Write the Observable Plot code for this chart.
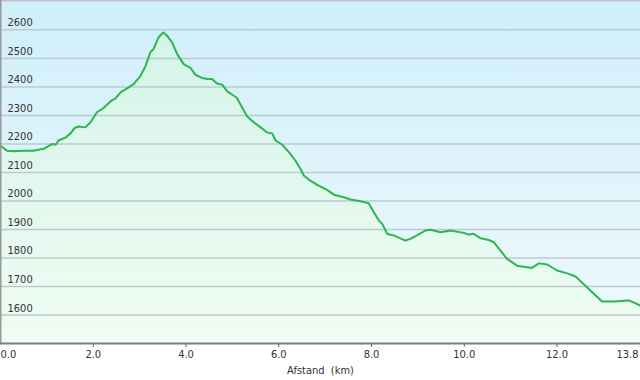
<!DOCTYPE html>
<html>
<head>
<meta charset="utf-8">
<script src="https://cdn.jsdelivr.net/npm/d3@7"></script>
<script src="https://cdn.jsdelivr.net/npm/@observablehq/plot@0.6"></script>
<style>
  html, body { margin: 0; padding: 0; background: #ffffff; }
  svg text { white-space: pre; }
</style>
</head>
<body>
<div id="chart"></div>
<script>
// Distance along the route (km)
const distanceKm = [0, 0.14, 0.28, 0.50, 0.71, 0.93, 1.12, 1.19, 1.25, 1.40, 1.51, 1.60, 1.68, 1.83, 1.94, 2.08, 2.22, 2.37, 2.48, 2.59, 2.73, 2.87, 3.02, 3.13, 3.23, 3.30, 3.41, 3.51, 3.59, 3.70, 3.81, 3.95, 4.10, 4.20, 4.35, 4.46, 4.56, 4.67, 4.78, 4.89, 5.03, 5.10, 5.21, 5.32, 5.46, 5.61, 5.75, 5.86, 5.93, 6.07, 6.25, 6.36, 6.47, 6.54, 6.68, 6.83, 7.04, 7.19, 7.40, 7.55, 7.76, 7.94, 8.05, 8.16, 8.23, 8.34, 8.48, 8.73, 8.84, 8.98, 9.16, 9.27, 9.49, 9.70, 9.99, 10.10, 10.20, 10.35, 10.53, 10.64, 10.92, 11.14, 11.46, 11.61, 11.79, 12.00, 12.22, 12.40, 12.97, 13.22, 13.55, 13.80];
// Elevation (m)
const elevationM = [2194, 2176, 2174, 2176, 2176, 2183, 2200, 2197, 2212, 2222, 2237, 2256, 2261, 2258, 2276, 2311, 2326, 2349, 2360, 2381, 2395, 2410, 2439, 2474, 2521, 2533, 2574, 2591, 2580, 2556, 2515, 2480, 2466, 2443, 2431, 2428, 2428, 2412, 2408, 2384, 2369, 2361, 2328, 2296, 2276, 2258, 2240, 2237, 2212, 2198, 2165, 2141, 2112, 2089, 2071, 2056, 2039, 2022, 2013, 2005, 1999, 1992, 1960, 1931, 1920, 1884, 1879, 1861, 1867, 1879, 1896, 1899, 1890, 1896, 1888, 1882, 1885, 1869, 1863, 1855, 1797, 1773, 1765, 1781, 1777, 1756, 1746, 1735, 1647, 1647, 1651, 1633];

const yTicks = [1600, 1700, 1800, 1900, 2000, 2100, 2200, 2300, 2400, 2500, 2600];
const xTicks = [2, 4, 6, 8, 10, 12];
const xStartTick = [0];
const xEndTick = [13.8];
const xLabel = "Afstand  (km)";
const yMin = 1500;
const yMax = 2703;
const xMax = 13.8;

const data = distanceKm.map((d, i) => ({km: d, elev: elevationM[i]}));
const fmt = d3.format(".1f");

const svg = Plot.plot({
  width: 640,
  height: 380,
  marginLeft: 0,
  marginRight: 0,
  marginTop: 0,
  marginBottom: 37,
  style: {
    fontFamily: "'DejaVu Sans Condensed', 'DejaVu Sans', sans-serif",
    fontSize: "11px",
    color: "#333",
    background: "#ffffff"
  },
  x: {domain: [0, xMax], axis: null, label: null},
  y: {domain: [yMin, yMax], axis: null, label: null},
  marks: [
    Plot.frame({fill: "url(#bgGrad)", stroke: null}),
    Plot.areaY(data, {x: "km", y1: () => yMin, y2: "elev", fill: "url(#areaGrad)"}),
    Plot.ruleY(yTicks, {stroke: "#bccacf", strokeWidth: 1.5}),
    Plot.line(data, {x: "km", y: "elev", stroke: "#2db550", strokeWidth: 2, strokeLinejoin: "round"}),
    Plot.ruleY([yMax], {stroke: "#c4c4c4", strokeWidth: 2}),
    Plot.ruleX([0], {stroke: "#999999", strokeWidth: 2}),
    Plot.ruleY([yMin], {stroke: "#7f7f7f", strokeWidth: 2}),
    Plot.axisY(yTicks, {anchor: "left", tickSize: 0, tickPadding: 0, textAnchor: "start", dx: 7, dy: -7, fill: "#333", label: null, tickFormat: d => String(d)}),
    Plot.axisX(xTicks, {anchor: "bottom", tickSize: 4, tickPadding: 3, stroke: "#666", fill: "#333", tickFormat: fmt, label: null}),
    Plot.axisX(xStartTick, {anchor: "bottom", tickSize: 0, tickPadding: 7, textAnchor: "start", fill: "#333", tickFormat: fmt, label: null}),
    Plot.axisX(xEndTick, {anchor: "bottom", tickSize: 0, tickPadding: 7, textAnchor: "end", dx: -2, fill: "#333", tickFormat: fmt, label: null}),
    Plot.text([xLabel], {frameAnchor: "bottom", dy: 30, text: d => d, fill: "#333", fontSize: 11})
  ]
});

const ns = "http://www.w3.org/2000/svg";
const defs = document.createElementNS(ns, "defs");
function grad(id, stops) {
  const g = document.createElementNS(ns, "linearGradient");
  g.setAttribute("id", id);
  g.setAttribute("gradientUnits", "userSpaceOnUse");
  g.setAttribute("x1", 0); g.setAttribute("x2", 0);
  g.setAttribute("y1", 0); g.setAttribute("y2", 343);
  for (const [o, c] of stops) {
    const s = document.createElementNS(ns, "stop");
    s.setAttribute("offset", o);
    s.setAttribute("stop-color", c);
    g.appendChild(s);
  }
  defs.appendChild(g);
}
grad("bgGrad", [[0, "#cfeffa"], [1, "#eff9fc"]]);
grad("areaGrad", [[0, "#d2f3e6"], [1, "#f0fcf4"]]);
svg.insertBefore(defs, svg.firstChild);

document.getElementById("chart").appendChild(svg);
</script>
</body>
</html>
